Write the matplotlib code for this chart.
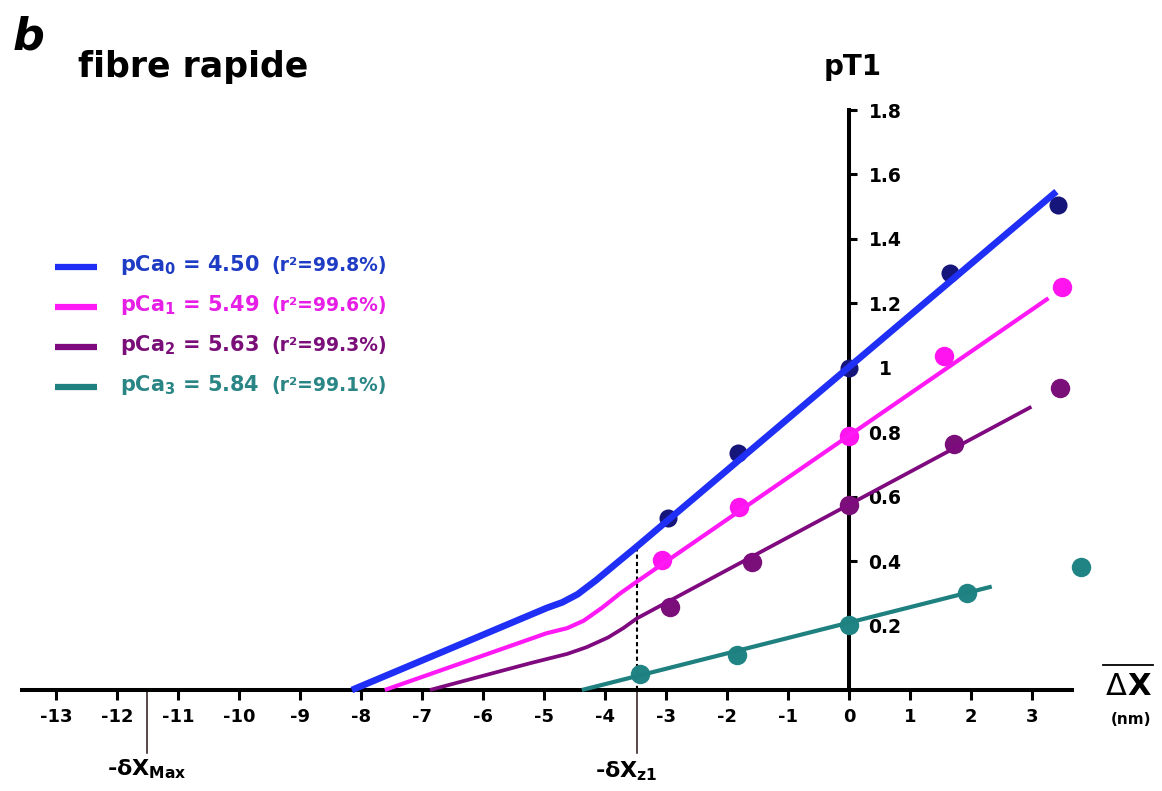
import numpy as np
import matplotlib
matplotlib.use("Agg")
import matplotlib.pyplot as plt
from matplotlib.lines import Line2D

plt.rcParams['font.family'] = ['DejaVu Sans']
plt.rcParams['font.weight'] = 'bold'
plt.rcParams['mathtext.fontset'] = 'dejavusans'

# measured points (delta X in nm, pT1)
blue_x = [-2.97, -1.82, 0.0, 1.66, 3.43]
blue_y = [0.534, 0.736, 1.0, 1.295, 1.505]
mag_x = [-3.07, -1.81, 0.0, 1.55, 3.49]
mag_y = [0.403, 0.569, 0.788, 1.037, 1.252]
pur_x = [-2.93, -1.59, 0.0, 1.72, 3.46]
pur_y = [0.258, 0.398, 0.574, 0.763, 0.936]
teal_x = [-3.43, -1.84, 0.0, 1.93, 3.81]
teal_y = [0.050, 0.109, 0.202, 0.300, 0.383]

# fitted curves
blue_fx = [-8.15, -4.95, -4.70, -4.45, -4.15, -3.80, -3.48, 3.40]
blue_fy = [0.0, 0.255, 0.272, 0.297, 0.340, 0.395, 0.445, 1.547]
mag_fx = [-7.61, -4.96, -4.62, -4.35, -4.05, -3.75, -3.48, 3.27]
mag_fy = [0.0, 0.176, 0.192, 0.215, 0.255, 0.300, 0.336, 1.216]
pur_fx = [-6.87, -5.23, -4.62, -4.30, -3.95, -3.70, -3.48, 2.99]
pur_fy = [0.0, 0.083, 0.112, 0.133, 0.163, 0.192, 0.222, 0.879]
teal_fx = [-4.38, 2.34]
teal_fy = [0.0, 0.321]

pca_labels = ['pCa$_{\\mathbf{0}}$ = 4.50', 'pCa$_{\\mathbf{1}}$ = 5.49',
              'pCa$_{\\mathbf{2}}$ = 5.63', 'pCa$_{\\mathbf{3}}$ = 5.84']
r2_labels = ['(r²=99.8%)', '(r²=99.6%)', '(r²=99.3%)', '(r²=99.1%)']

x_ticks = list(range(-13, 4))
y_ticks = [0.2, 0.4, 0.6, 0.8, 1.0, 1.2, 1.4, 1.6, 1.8]
y_ticklabels = ['0.2', '0.4', '0.6', '0.8', '1', '1.2', '1.4', '1.6', '1.8']

dx_z1 = -3.48
dx_max = -11.5

W, H = 1162, 791
fig = plt.figure(figsize=(W / 100, H / 100), dpi=100)
ax = fig.add_axes([0, 0, 1, 1])
ax.set_xlim(-849 / 61, (W - 849) / 61)
ax.set_ylim((690 - H) / 322.2, 690 / 322.2)

series = [
    (blue_x, blue_y, blue_fx, blue_fy, '#1f2ff5', '#16167a', '#1f3cc4', 4.8, 13),
    (mag_x, mag_y, mag_fx, mag_fy, '#ff19f5', '#ff14f0', '#e61ee6', 3.0, 14),
    (pur_x, pur_y, pur_fx, pur_fy, '#7f0a7f', '#7a0f7a', '#7a0f7a', 2.7, 14),
    (teal_x, teal_y, teal_fx, teal_fy, '#1f8080', '#218484', '#2a8585', 3.0, 14),
]
for px, py, fx, fy, lc, pc, tc, lw, ms in series:
    ax.plot(px, py, 'o', color=pc, ms=ms, mec='none', zorder=3, clip_on=False)
    ax.plot(fx, fy, '-', color=lc, lw=lw, zorder=4, solid_capstyle='butt',
            solid_joinstyle='round')

# axes through origin
for s in ['top', 'left']:
    ax.spines[s].set_visible(False)
ax.spines['bottom'].set_position(('data', 0))
ax.spines['right'].set_position(('data', 0))
ax.spines['bottom'].set_bounds(-13.56, 3.66)
ax.spines['right'].set_bounds(0, 1.8)
for s in ['bottom', 'right']:
    ax.spines[s].set_linewidth(2.9)
    ax.spines[s].set_zorder(2)
ax.yaxis.set_ticks_position('right')
ax.xaxis.set_ticks_position('bottom')
ax.set_xticks(x_ticks)
ax.set_xticklabels([str(t) for t in x_ticks])
ax.set_yticks(y_ticks)
ax.set_yticklabels(y_ticklabels)
ax.tick_params(axis='x', direction='out', length=7, width=2.2, pad=6, labelsize=13)
ax.tick_params(axis='y', direction='out', length=6, width=2.2, pad=20, labelsize=13.5)
for lbl in ax.get_yticklabels():
    lbl.set_ha('center')
for lbl in ax.get_xticklabels() + ax.get_yticklabels():
    lbl.set_fontweight('bold')

# delta X markers
ax.plot([dx_z1, dx_z1], [0, 0.445], ls=(0, (2, 1.5)), color='black', lw=1.5, zorder=2)
ax.plot([dx_z1, dx_z1], [0, -0.196], color='#2a1515', lw=1.1, clip_on=False)
ax.plot([dx_max, dx_max], [0, -0.196], color='#2a1515', lw=1.1, clip_on=False)
ax.text(dx_max - 0.66, -0.264, '-δX$_{\\mathbf{Max}}$', fontsize=16, ha='left', va='baseline')
ax.text(dx_z1 - 0.68, -0.27, '-δX$_{\\mathbf{z1}}$', fontsize=16, ha='left', va='baseline')

# axis labels
ax.text(0.066, 1.91, 'pT1', fontsize=20, ha='center', va='baseline')
ax.text(4.557, -0.016, 'Δ', fontsize=22, fontweight='normal', ha='right', va='baseline')
ax.text(4.557, -0.016, 'X', fontsize=22, fontweight='bold', ha='left', va='baseline')
ax.plot([4.16, 4.98], [0.078, 0.078], color='black', lw=1.3, clip_on=False)
ax.text(4.62, -0.093, '(nm)', fontsize=11, ha='center', va='center')

# titles
fig.text(78 / W, 1 - 77 / H, 'fibre rapide', fontsize=25, fontweight='bold')
fig.text(13 / W, 1 - 49 / H, 'b', fontsize=32, fontweight='bold', style='italic')

# legend
for i, (_, _, _, _, lc, pc, tc, lw, ms) in enumerate(series):
    yl = 267 + 40 * i
    fig.add_artist(Line2D([55 / W, 97 / W], [1 - yl / H, 1 - yl / H],
                          color=lc, lw=4.5, solid_capstyle='butt'))
    fig.text(120 / W, 1 - (yl + 4) / H, pca_labels[i], color=tc, fontsize=15,
             fontweight='bold', va='baseline')
    fig.text(271 / W, 1 - (yl + 4) / H, r2_labels[i], color=tc, fontsize=13.5,
             fontweight='bold', va='baseline')

ax.patch.set_alpha(0)
fig.savefig('out.png', dpi=100)
